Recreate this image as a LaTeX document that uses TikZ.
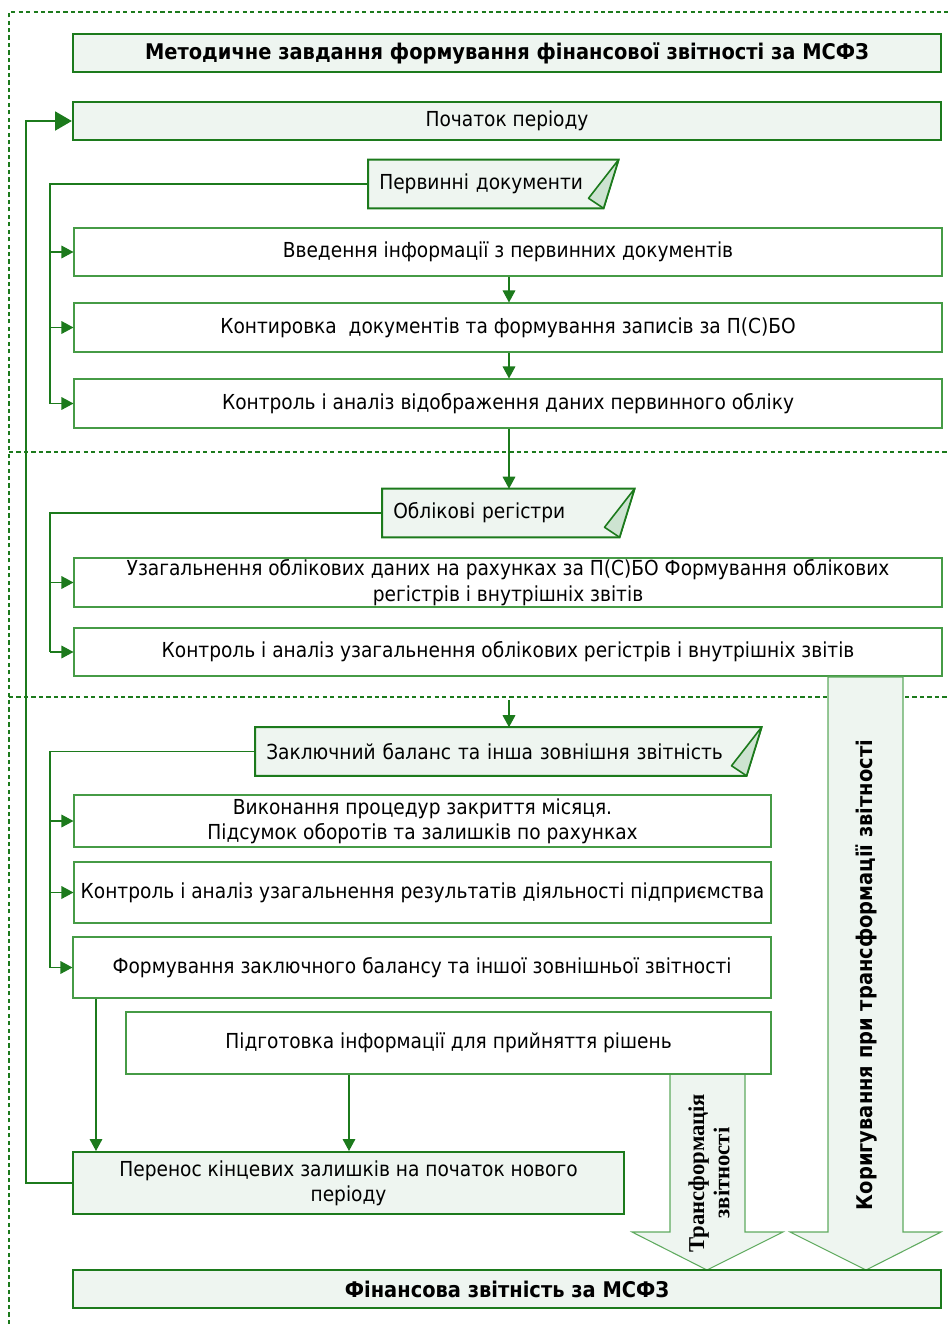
\documentclass[tikz,border=0pt]{standalone}
\usepackage{fontspec}
\setmainfont{DejaVu Sans}[FakeStretch=0.9]
\newfontfamily\serifb{Liberation Serif}
\usetikzlibrary{arrows.meta,calc}
\definecolor{dg}{RGB}{28,122,28}
\definecolor{mg}{RGB}{70,155,70}
\definecolor{lg}{RGB}{238,245,240}
\definecolor{tg}{RGB}{205,227,209}
\definecolor{ag}{RGB}{95,170,95}
\newcommand\fs{\fontsize{15.5}{19}\selectfont}
\newcommand\fb{\fontsize{16.2}{19}\selectfont\bfseries}
\tikzset{
  sz/.style 2 args={minimum width=#1*0.75pt, minimum height=#2*0.75pt},
  hbox/.style={draw=dg, line width=1.7pt, fill=lg, inner sep=0pt, align=center, font=\fs},
  tbox/.style={draw=mg, line width=0.8pt, fill=white, inner sep=0pt, align=center, font=\fs},
  docn/.style={inner xsep=8.25pt, inner ysep=0pt, align=left, font=\fs, minimum height=36pt, anchor=west},
  docshape/.style={draw=dg, line width=1.5pt, fill=lg},
  foldtri/.style={draw=dg, line width=1.2pt, fill=tg, line join=round},
  conn/.style={draw=dg, line width=0.9pt},
  arr/.style={conn, -{Triangle[length=9pt,width=9.5pt]}},
  fbarr/.style={draw=dg, line width=1.9pt, -{Triangle[length=12.5pt,width=14pt]}},
  sep/.style={draw=dg, line width=1.5pt, dash pattern=on 3.2pt off 2.4pt},
  bigarrow/.style={draw=ag, line width=0.8pt, fill=lg, line join=miter},
}
\begin{document}
\begin{tikzpicture}[x=0.75pt,y=-0.75pt]
\useasboundingbox (0,0) rectangle (948,1324);

% outer border and separators
\draw[sep] (9,1324) -- (9,12) -- (948,12);
\draw[sep] (9,452) -- (948,452);
\draw[sep] (9,697) -- (948,697);

% top boxes
\node[hbox, sz={868}{38}, font=\fb] (title) at (507,53) {Методичне завдання формування фінансової звітності за МСФЗ};
\node[hbox, sz={868}{38}] (start) at (507,121) {Початок періоду};

% section 1
\node[docn, text width=228*0.75pt] (pd) at (368,184) {Первинні документи};
\draw[docshape] (pd.north west) -- (pd.north east) -- ($(pd.south east)+(-15,0)$) -- (pd.south west) -- cycle;
\draw[foldtri] (pd.north east) -- ($(pd.south east)+(-15,0)$) -- ($(pd.south east)+(-30,-10)$) -- cycle;
\node[docn, text width=228*0.75pt] at (368,184) {Первинні документи};

\node[tbox, sz={868}{48}] (b1) at (508,252) {Введення інформації з первинних документів};
\node[tbox, sz={868}{49}] (b2) at (508,327.5) {Контировка\ \ документів та формування записів за П(С)БО};
\node[tbox, sz={868}{49}] (b3) at (508,403.5) {Контроль і аналіз відображення даних первинного обліку};

\coordinate (l1) at (50,0);
\draw[conn] (pd.west) -| (b3.west -| l1);
\draw[arr] (b1.west -| l1) -- (b1.west);
\draw[arr] (b2.west -| l1) -- (b2.west);
\draw[arr] (b3.west -| l1) -- (b3.west);
\draw[arr] (b1.south -| 509,0) -- (b2.north -| 509,0);
\draw[arr] (b2.south -| 509,0) -- (b3.north -| 509,0);

% section 2
\node[docn, text width=230*0.75pt] (or) at (382,513) {Облікові регістри};
\draw[docshape] (or.north west) -- (or.north east) -- ($(or.south east)+(-15,0)$) -- (or.south west) -- cycle;
\draw[foldtri] (or.north east) -- ($(or.south east)+(-15,0)$) -- ($(or.south east)+(-30,-10)$) -- cycle;
\node[docn, text width=230*0.75pt] at (382,513) {Облікові регістри};
\draw[arr] (b3.south -| 509,0) -- (or.north -| 509,0);

\node[tbox, sz={868}{49}] (b4) at (508,582.5) {Узагальнення облікових даних на рахунках за П(С)БО Формування облікових\\регістрів і внутрішніх звітів};
\node[tbox, sz={868}{48}] (b5) at (508,652) {Контроль і аналіз узагальнення облікових регістрів і внутрішніх звітів};
\draw[conn] (or.west) -| (b5.west -| l1);
\draw[arr] (b4.west -| l1) -- (b4.west);
\draw[arr] (b5.west -| l1) -- (b5.west);

% Коригування arrow
\draw[bigarrow] (828,677) -- (903,677) -- (903,1232) -- (941,1232) -- (866,1270) -- (790,1232) -- (828,1232) -- cycle;
\node[rotate=90, font=\fb] (kor) at (866,975) {Коригування при трансформації звітності};

% section 3
\coordinate (s3) at (509,700);
\node[docn, text width=484*0.75pt] (zb) at (255,751.5) {Заключний баланс та інша зовнішня звітність};
\draw[docshape] (zb.north west) -- (zb.north east) -- ($(zb.south east)+(-15,0)$) -- (zb.south west) -- cycle;
\draw[foldtri] (zb.north east) -- ($(zb.south east)+(-15,0)$) -- ($(zb.south east)+(-30,-10)$) -- cycle;
\node[docn, text width=484*0.75pt] at (255,751.5) {Заключний баланс та інша зовнішня звітність};
\draw[arr] (s3) -- (zb.north -| s3);

\node[tbox, sz={697}{52}] (b6) at (422.5,821) {Виконання процедур закриття місяця.\\Підсумок оборотів та залишків по рахунках};
\node[tbox, sz={697}{61}] (b7) at (422.5,892.5) {Контроль і аналіз узагальнення результатів діяльності підприємства};
\node[tbox, sz={698}{61}] (b8) at (422,967.5) {Формування заключного балансу та іншої зовнішньої звітності};
\draw[conn] (zb.west) -| (b8.west -| l1);
\draw[arr] (b6.west -| l1) -- (b6.west);
\draw[arr] (b7.west -| l1) -- (b7.west);
\draw[arr] (b8.west -| l1) -- (b8.west);

% Трансформація arrow
\draw[bigarrow] (670,1074) -- (745,1074) -- (745,1232) -- (783,1232) -- (707,1270) -- (632,1232) -- (670,1232) -- cycle;
\node[rotate=90, align=center, font=\serifb\fontsize{17}{19}\selectfont\bfseries] (trf) at (709,1173) {Трансформація\\звітності};

\node[tbox, sz={645}{62}] (b9) at (448.5,1043) {Підготовка інформації для прийняття рішень};
\node[hbox, sz={551}{62}, line width=1.5pt] (per) at (348.5,1183) {Перенос кінцевих залишків на початок нового\\періоду};
\coordinate (x1) at (96,0);
\coordinate (x2) at (349,0);
\draw[arr] (b8.south -| x1) -- (per.north -| x1);
\draw[arr] (b9.south -| x2) -- (per.north -| x2);

\draw[fbarr] (per.west) -- ++(-46,0) |- (start.west);

\node[hbox, sz={868}{38}, font=\fb] (fin) at (507,1289) {Фінансова звітність за МСФЗ};
\end{tikzpicture}
\end{document}
